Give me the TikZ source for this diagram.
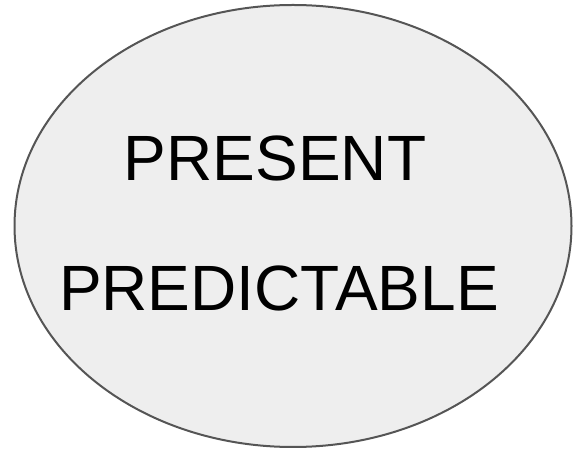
\documentclass[tikz,border=0pt]{standalone}
\usepackage{fontspec}
\setmainfont{Liberation Sans}
\usetikzlibrary{positioning, shapes.geometric}
\definecolor{ovalfill}{HTML}{EEEEEE}
\definecolor{ovalline}{HTML}{555555}

\begin{document}
\begin{tikzpicture}[
        x=1pt, y=1pt,
        oval/.style={ellipse, draw=ovalline, fill=ovalfill, line width=2pt,
          minimum width=557pt, minimum height=442pt, inner sep=0pt},
        word/.style={anchor=base, inner sep=0pt, font=\fontsize{64}{77}\selectfont}
      ]
      \useasboundingbox (0, 0) rectangle (578, 452);
      \node[oval] (oval) at (293, 226) {};
      \node[word] (present) at (275, 271) {PRESENT};
      \node[word] (predictable) at (279, 141) {PREDICTABLE};
    \end{tikzpicture}
\end{document}
